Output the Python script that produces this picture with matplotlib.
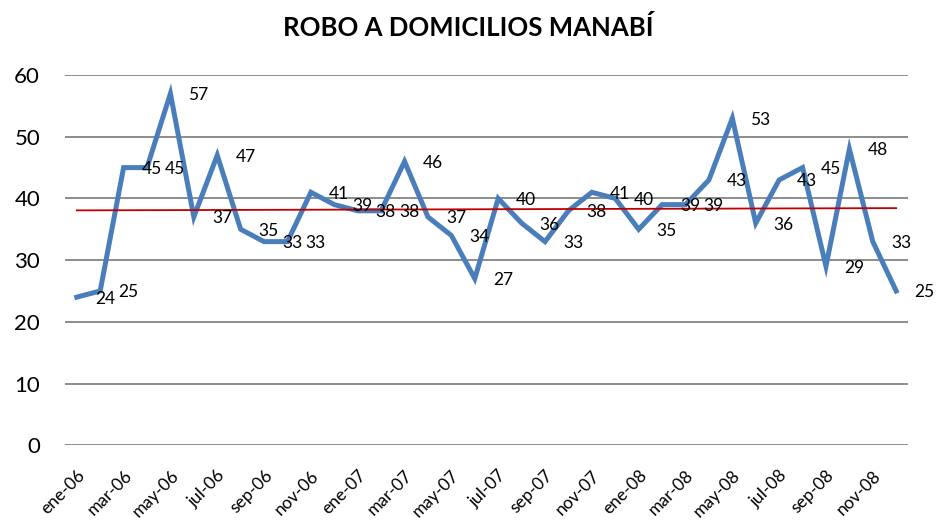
import matplotlib
matplotlib.use("Agg")
import matplotlib.pyplot as plt
import numpy as np

# monthly reports, ene-06 .. dic-08
months = ["ene", "feb", "mar", "abr", "may", "jun",
          "jul", "ago", "sep", "oct", "nov", "dic"]
years = ["06", "07", "08"]
periods = [f"{m}-{y}" for y in years for m in months]
robos = [24, 25, 45, 45, 57, 37, 47, 35, 33, 33, 41, 39,
         38, 38, 46, 37, 34, 27, 40, 36, 33, 38, 41, 40,
         35, 39, 39, 43, 53, 36, 43, 45, 29, 48, 33, 25]
y_ticks = [0, 10, 20, 30, 40, 50, 60]

plt.rcParams["font.family"] = ["Lato", "DejaVu Sans"]

fig = plt.figure(figsize=(9.36, 5.25), dpi=100)
ax = fig.add_axes([0.0695, 0.152, 0.9005, 0.705])

x = np.arange(len(robos))
ax.plot(x, robos, color="#4A7EBB", linewidth=3.6, solid_joinstyle="miter", zorder=3)

# linear trend line
slope, icpt = np.polyfit(x, robos, 1)
ax.plot(x[[0, -1]], slope * x[[0, -1]] + icpt, color="#C00000", linewidth=1.3, zorder=4)

for xi, v in zip(x, robos):
    ax.annotate(str(v), (xi, v), xytext=(13, -1), textcoords="offset points",
                ha="left", va="center", fontsize=12.5, color="black", zorder=5)

ax.set_xlim(-0.5, len(robos) - 0.5)
ax.set_ylim(0, 60)
ax.set_yticks(y_ticks)
ax.set_yticklabels([str(t) for t in y_ticks], fontsize=16)
ax.yaxis.grid(True, color="#8c8c8c", linewidth=1.4)
ax.set_axisbelow(True)
ax.set_xticks(x[::2])
ax.set_xticklabels(periods[::2], rotation=45, ha="right", rotation_mode="anchor",
                   fontsize=12.5)
ax.tick_params(axis="both", length=0)
ax.tick_params(axis="y", pad=18)
ax.tick_params(axis="x", pad=16)
for s in ax.spines.values():
    s.set_visible(False)

fig.text(0.5, 0.947, "ROBO A DOMICILIOS MANABÍ", ha="center", va="center",
         fontsize=18.5, fontweight="bold")

fig.savefig("out.png", dpi=100)
